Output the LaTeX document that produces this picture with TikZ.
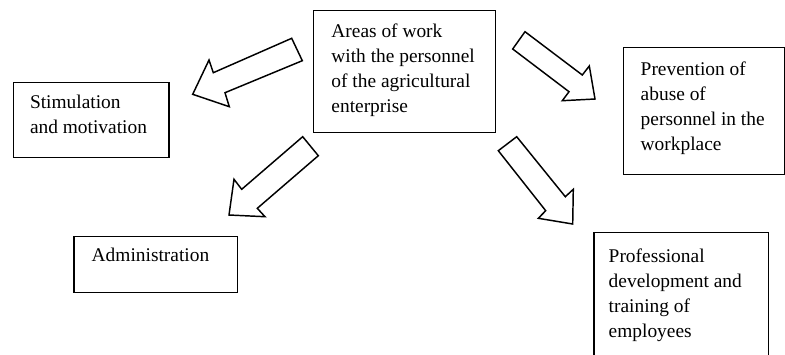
\documentclass[tikz,border=0pt]{standalone}
\usepackage{fontspec}
\setmainfont{Liberation Serif}
\begin{document}
\begin{tikzpicture}[x=0.75pt,y=-0.75pt,line width=1.1pt,
  every node/.style={font=\fontsize{14.55}{18.75}\selectfont,inner sep=0pt},
  box/.style={draw,anchor=north west},
  boxtext/.style={anchor=north west,align=left},
  blockarrow/.style={line join=miter}]
\useasboundingbox (0,0) rectangle (785,354);
% boxes
\node[box,minimum width=136.5pt,minimum height=91.3pt] (areas) at (313,10) {};
\node[box,minimum width=116.7pt,minimum height=56.25pt] (stim) at (12.7,81.7) {};
\node[box,minimum width=121pt,minimum height=95pt] (prev) at (622.7,47) {};
\node[box,minimum width=122.5pt,minimum height=42pt] (admin) at (73.3,235.7) {};
\node[box,minimum width=131pt,minimum height=93.75pt] (prof) at (593.3,231.7) {};
% texts, set against the top left corner of each box
\node[boxtext] (areas text) at ([shift={(17.7,12.7)}]areas.north west)
  {Areas of work\\with the personnel\\of the agricultural\\enterprise};
\node[boxtext] (stim text) at ([shift={(16.6,12.3)}]stim.north west)
  {Stimulation\\and motivation};
\node[boxtext] (prev text) at ([shift={(17.3,14)}]prev.north west)
  {Prevention of\\abuse of\\personnel in the\\workplace};
\node[boxtext] (admin text) at ([shift={(17.7,12)}]admin.north west)
  {Administration};
\node[boxtext] (prof text) at ([shift={(14.7,16)}]prof.north west)
  {Professional\\development and\\training of\\employees};
% block arrows
\draw[blockarrow] (291.7,38.3) -- (213.3,72.7) -- (209,60) -- (192.7,94.3) -- (229.3,106.7) -- (225,92.7) -- (302.3,60.7) -- cycle;
\draw[blockarrow] (525,31.7) -- (582.3,75) -- (589.3,66) -- (595,99) -- (562.3,100.7) -- (569,91.7) -- (512.7,49) -- cycle;
\draw[blockarrow] (302.7,136.7) -- (318.3,155.7) -- (257.3,208.3) -- (265,216.7) -- (229,215) -- (234,179.3) -- (241.7,189.3) -- cycle;
\draw[blockarrow] (516.7,136.7) -- (565.3,196.7) -- (573.3,189.3) -- (572.7,224) -- (538.3,218.3) -- (545.7,210.7) -- (498.3,150.7) -- cycle;
\end{tikzpicture}
\end{document}
